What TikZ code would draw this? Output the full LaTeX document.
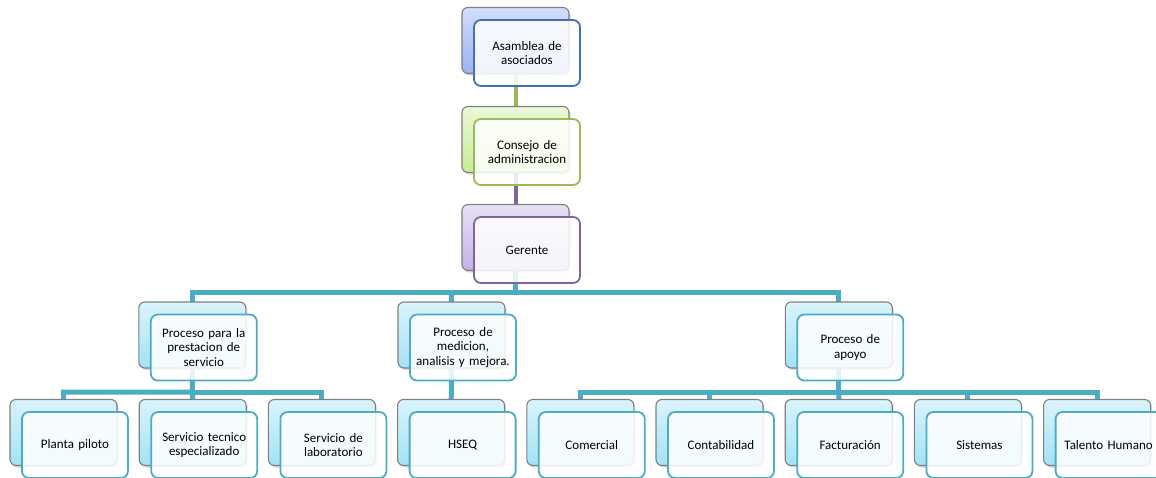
\documentclass[tikz,border=0pt]{standalone}
\usepackage{fontspec}
\setmainfont{Carlito}
\usetikzlibrary{shadows}
\definecolor{backgray}{HTML}{7F7F7F}
\definecolor{bluetop}{HTML}{D3DDFA}
\definecolor{bluebot}{HTML}{9AB2F3}
\definecolor{blueline}{HTML}{3F70BF}
\definecolor{greentop}{HTML}{EAF8D6}
\definecolor{greenbot}{HTML}{C6EB96}
\definecolor{greenline}{HTML}{9BBB59}
\definecolor{purptop}{HTML}{E8E0F5}
\definecolor{purpbot}{HTML}{C4B2E5}
\definecolor{purpline}{HTML}{8064A2}
\definecolor{cyantop}{HTML}{DAF4FC}
\definecolor{cyanbot}{HTML}{A2E2F5}
\definecolor{cyanline}{HTML}{4BACC6}
\pgfdeclarelayer{background}
\pgfsetlayers{background,main}
\newcommand\obox[5]{%
  \node[backbox, top color=#4top, bottom color=#4bot] (#1b) at (#2,#3) {};
  \node[frontbox, draw=#4line] (#1) at (#2+11.5,#3+12.5) {#5};
}
\begin{document}
\begin{tikzpicture}[x=1pt,y=-1pt,
  backbox/.style={draw=backgray, line width=1.1pt, rounded corners=6pt,
    minimum width=107pt, minimum height=66pt, inner sep=0pt,
    drop shadow={opacity=0.3, shadow xshift=1.5pt, shadow yshift=-2pt}},
  frontbox/.style={line width=1.8pt, rounded corners=7pt,
    minimum width=106pt, minimum height=66pt, inner sep=0pt,
    fill=white, fill opacity=0.86, draw opacity=1, text opacity=1,
    align=center, text width=104pt,
    font=\fontsize{13}{14.8}\selectfont},
  conn/.style={line width=5pt, color=cyanline, line join=miter}]
\useasboundingbox (0,0) rectangle (1156,477);

\obox{asam}{515.5}{40.5}{blue}{Asamblea de\\asociados}
\obox{cons}{515.5}{139.5}{green}{Consejo de\\administracion}
\obox{ger}{515.5}{237.5}{purp}{Gerente}

\obox{pps}{192.3}{335}{cyan}{Proceso para la\\prestacion de\\servicio}
\obox{pmed}{451.5}{335}{cyan}{Proceso de\\medicion,\\analisis y mejora.}
\obox{pap}{838.8}{335}{cyan}{Proceso de\\apoyo}

\obox{pla}{63.5}{432.5}{cyan}{Planta piloto}
\obox{ste}{192.7}{432.5}{cyan}{Servicio tecnico\\especializado}
\obox{slab}{321.9}{432.5}{cyan}{Servicio de\\laboratorio}
\obox{hseq}{451.1}{432.5}{cyan}{HSEQ}
\obox{com}{580.3}{432.5}{cyan}{Comercial}
\obox{cont}{709.5}{432.5}{cyan}{Contabilidad}
\obox{fact}{838.7}{432.5}{cyan}{Facturación}
\obox{sis}{967.9}{432.5}{cyan}{Sistemas}
\obox{tal}{1097.1}{432.5}{cyan}{Talento Humano}

\coordinate (bus1) at (515.5,292);
\coordinate (bus2) at (192.5,392);
\coordinate (bus3) at (838.8,392);

\begin{pgfonlayer}{background}
  \draw[line width=4pt, greenline] (asamb.center) -- (consb.center);
  \draw[line width=4pt, purpline] (consb.center) -- (gerb.center);
  \draw[conn] (gerb.center) -- (bus1) -| (ppsb.center);
  \draw[conn] (bus1) -| (pmedb.center);
  \draw[conn] (bus1) -| (papb.center);
  \draw[conn] (ppsb.center) -- (bus2) -| (plab.center);
  \draw[conn] (bus2) -| (slabb.center);
  \draw[conn] (bus2) -- (steb.center);
  \draw[conn] (pmedb.center) -- (hseqb.center);
  \draw[conn] (papb.center) -- (bus3) -| (comb.center);
  \draw[conn] (bus3) -| (contb.center);
  \draw[conn] (bus3) -| (sisb.center);
  \draw[conn] (bus3) -| (talb.center);
  \draw[conn] (bus3) -- (factb.center);
\end{pgfonlayer}
\end{tikzpicture}
\end{document}
